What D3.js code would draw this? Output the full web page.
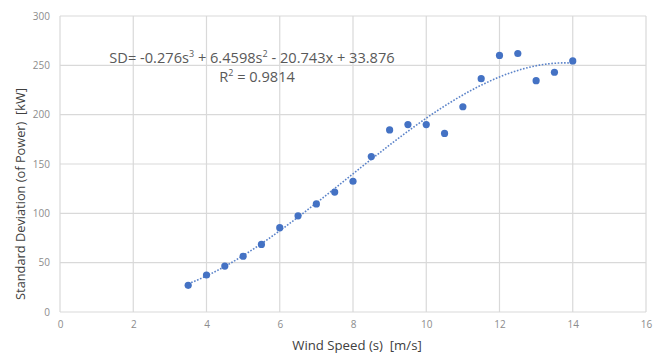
<!DOCTYPE html>
<html>
<head>
<meta charset="utf-8">
<script src="https://cdn.jsdelivr.net/npm/d3@7"></script>
<style>
  body { margin: 0; background: #fff; }
  text { font-family: "Open Sans", "Liberation Sans", sans-serif; white-space: pre; }
</style>
</head>
<body>
<div id="chart"></div>
<script>
// data
var windSpeed = [3.5, 4, 4.5, 5, 5.5, 6, 6.5, 7, 7.5, 8, 8.5, 9, 9.5, 10, 10.5, 11, 11.5, 12, 12.5, 13, 13.5, 14];
var stdDev = [27, 37.5, 46.5, 56.5, 68.5, 85.5, 97.5, 109.5, 121.5, 132.5, 157.5, 184.5, 190, 190, 181, 208, 236.5, 260, 262, 234.5, 243, 254.5];
var xTicks = [0, 2, 4, 6, 8, 10, 12, 14, 16];
var yTicks = [0, 50, 100, 150, 200, 250, 300];
// trendline coefficients shown in the label (a3, a2, a1, a0)
var trendCoef = [-0.276, 6.4598, -20.743, 33.876];

var svgWidth = 662;
var svgHeight = 356;

var margin = { top: 16, right: 16, bottom: 44, left: 60 };
var width = svgWidth - margin.left - margin.right;
var height = svgHeight - margin.top - margin.bottom;

var svg = d3.select("#chart")
  .append("svg")
  .attr("width", svgWidth)
  .attr("height", svgHeight);

var chartGroup = svg.append("g")
  .attr("transform", `translate(${margin.left}, ${margin.top})`);

var xScale = d3.scaleLinear().domain([0, 16]).range([0, width]);
var yScale = d3.scaleLinear().domain([0, 300]).range([height, 0]);

// gridlines
chartGroup.append("g")
  .selectAll("line.h")
  .data(yTicks)
  .enter()
  .append("line")
  .attr("x1", 0)
  .attr("x2", width)
  .attr("y1", d => yScale(d))
  .attr("y2", d => yScale(d))
  .attr("stroke", "#d9d9d9")
  .attr("stroke-width", 1.2);

chartGroup.append("g")
  .selectAll("line.v")
  .data(xTicks)
  .enter()
  .append("line")
  .attr("x1", d => xScale(d))
  .attr("x2", d => xScale(d))
  .attr("y1", 0)
  .attr("y2", height)
  .attr("stroke", "#d9d9d9")
  .attr("stroke-width", 1.2);

// axes (labels only)
var bottomAxis = d3.axisBottom(xScale).tickValues(xTicks).tickSize(0).tickPadding(9);
var leftAxis = d3.axisLeft(yScale).tickValues(yTicks).tickSize(0).tickPadding(10);

var xAxisG = chartGroup.append("g")
  .attr("transform", `translate(0, ${height})`)
  .call(bottomAxis);
var yAxisG = chartGroup.append("g").call(leftAxis);

[xAxisG, yAxisG].forEach(function(g) {
  g.select(".domain").remove();
  g.selectAll("text")
    .attr("fill", "#8c8c8c")
    .style("font-family", "'Open Sans', sans-serif")
    .style("font-size", "10px");
});

// trendline
var trendPts = d3.range(3.5, 14.001, 0.1).map(function(s) {
  return [s, trendCoef[0] * s * s * s + trendCoef[1] * s * s + trendCoef[2] * s + trendCoef[3]];
});

chartGroup.append("path")
  .datum(trendPts)
  .attr("fill", "none")
  .attr("stroke", "#5b83c9")
  .attr("stroke-width", 1.6)
  .attr("stroke-dasharray", "1.6,1.6")
  .attr("d", d3.line().x(d => xScale(d[0])).y(d => yScale(d[1])));

// points
chartGroup.selectAll("circle")
  .data(windSpeed)
  .enter()
  .append("circle")
  .attr("cx", d => xScale(d))
  .attr("cy", (d, i) => yScale(stdDev[i]))
  .attr("r", 3.6)
  .attr("fill", "#4472c4");

// equation label
var eq = chartGroup.append("text")
  .attr("x", 192)
  .attr("y", 47)
  .attr("text-anchor", "middle")
  .attr("fill", "#595959")
  .style("font-size", "14.6px");
eq.append("tspan").text("SD= -0.276s");
eq.append("tspan").attr("baseline-shift", "super").style("font-size", "9px").text("3");
eq.append("tspan").text(" + 6.4598s");
eq.append("tspan").attr("baseline-shift", "super").style("font-size", "9px").text("2");
eq.append("tspan").text(" - 20.743x + 33.876");

var r2 = chartGroup.append("text")
  .attr("x", 197)
  .attr("y", 66)
  .attr("text-anchor", "middle")
  .attr("fill", "#595959")
  .style("font-size", "14.6px");
r2.append("tspan").text("R");
r2.append("tspan").attr("baseline-shift", "super").style("font-size", "9px").text("2");
r2.append("tspan").text(" = 0.9814");

// axis titles
chartGroup.append("text")
  .attr("x", 297)
  .attr("y", height + 38)
  .attr("text-anchor", "middle")
  .attr("fill", "#404040")
  .style("font-size", "13.2px")
  .text("Wind Speed (s)  [m/s]");

chartGroup.append("text")
  .attr("transform", "rotate(-90)")
  .attr("x", 0 - 178)
  .attr("y", 0 - margin.left + 25)
  .attr("text-anchor", "middle")
  .attr("fill", "#404040")
  .style("font-size", "12.8px")
  .text("Standard Deviation (of Power)  [kW]");
</script>
</body>
</html>
